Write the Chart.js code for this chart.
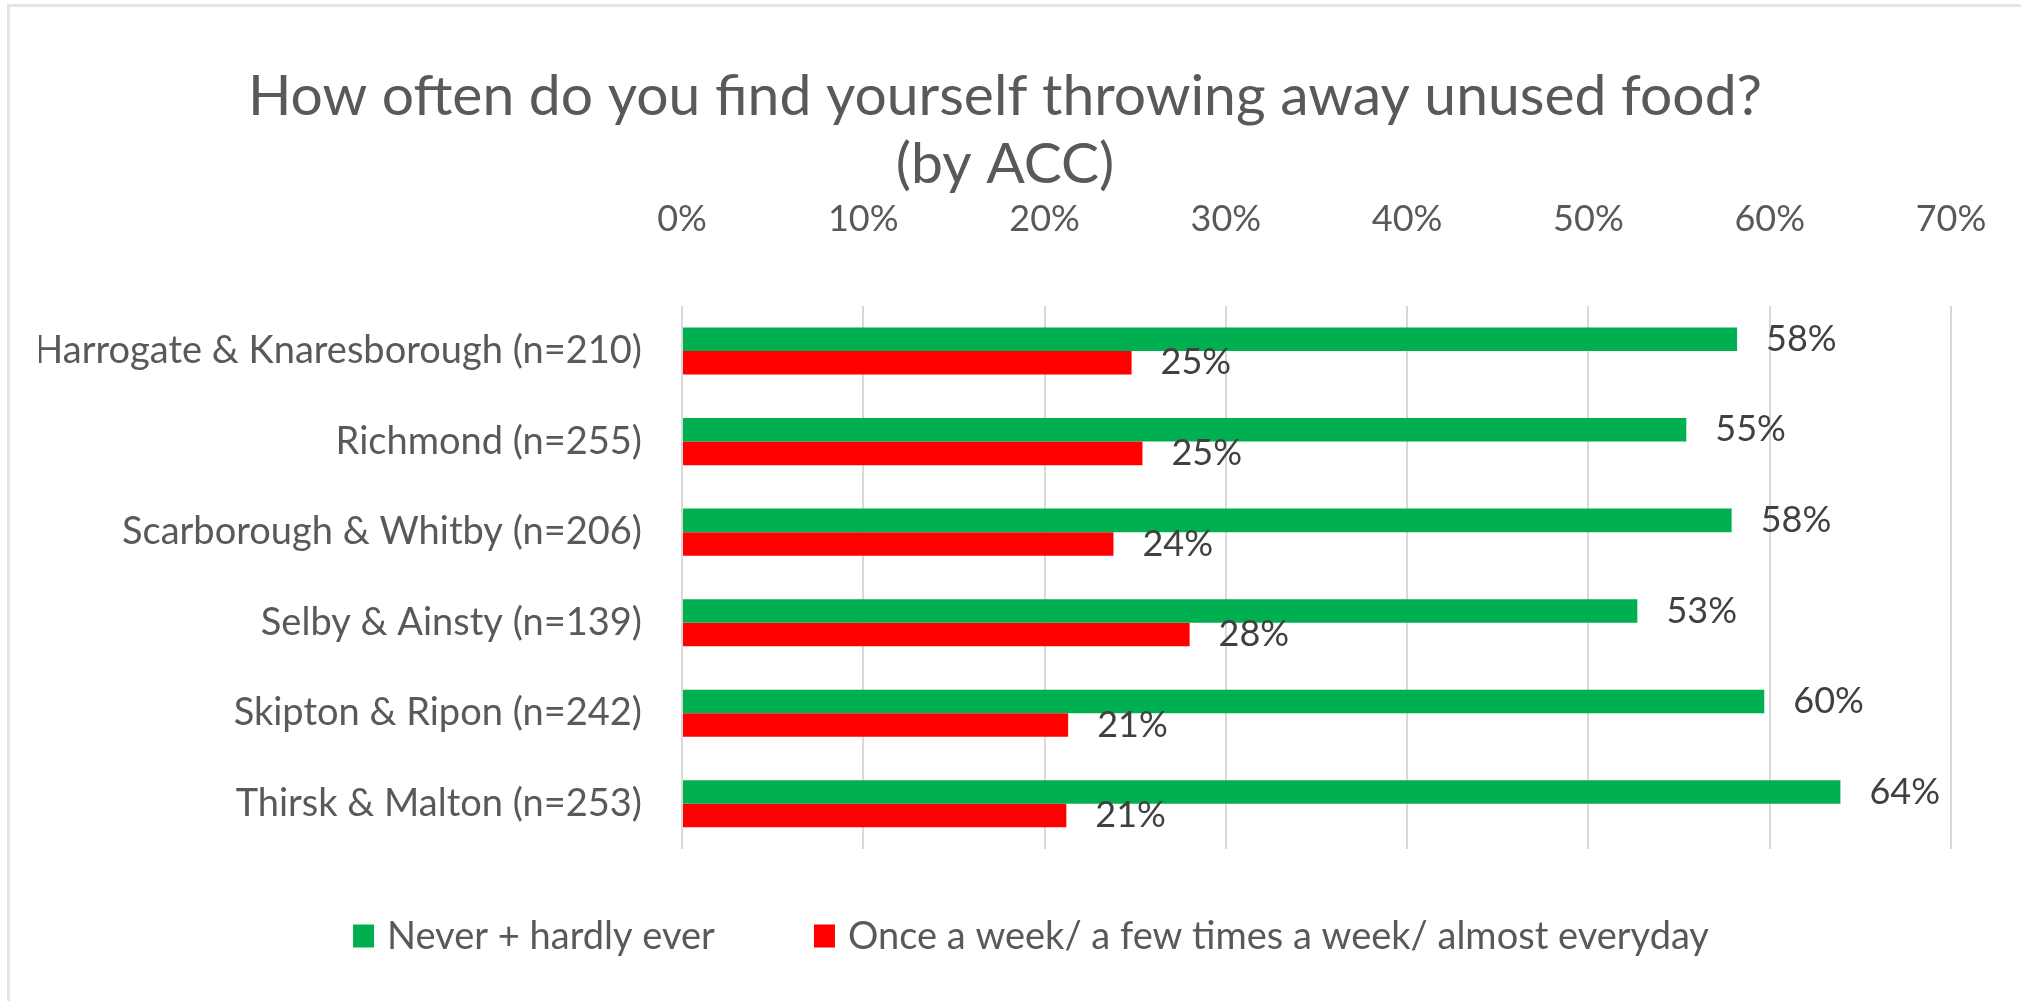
<!DOCTYPE html>
<html>
<head>
<meta charset="utf-8">
<script src="https://cdn.jsdelivr.net/npm/chart.js@4.4.0/dist/chart.umd.min.js"></script>
<style>
  html, body { margin: 0; padding: 0; background: #ffffff; }
  #wrap { position: relative; width: 2021px; height: 1001px; overflow: hidden; }
  #frame {
    position: absolute; left: 7px; top: 4px; right: -10px; bottom: -10px;
    border-left: 3px solid #e4e4e4; border-top: 3px solid #e4e4e4;
    pointer-events: none;
  }
  canvas { position: absolute; left: 0; top: 0; }
</style>
</head>
<body>
<div id="wrap">
  <canvas id="chart" width="2021" height="1001"></canvas>
  <div id="frame"></div>
</div>
<script>
const FONT = "Lato, 'Open Sans', sans-serif";

const titleLines = [
  "How often do you find yourself throwing away unused food?",
  "(by ACC)",
];

const categories = [
  "Harrogate & Knaresborough (n=210)",
  "Richmond (n=255)",
  "Scarborough & Whitby (n=206)",
  "Selby & Ainsty (n=139)",
  "Skipton & Ripon (n=242)",
  "Thirsk & Malton (n=253)",
];

const seriesNames = [
  "Never + hardly ever",
  "Once a week/ a few times a week/ almost everyday",
];

// percentages
const neverValues = [58.2, 55.4, 57.9, 52.7, 59.7, 63.9];
const weeklyValues = [24.8, 25.4, 23.8, 28.0, 21.3, 21.2];

const xTicks = [0, 10, 20, 30, 40, 50, 60, 70];

const GREEN = "#00b050";
const RED = "#ff0000";
const TEXT = "#595959";

// value labels at the end of each bar
const barLabels = {
  id: "barLabels",
  afterDatasetsDraw(chart) {
    const ctx = chart.ctx;
    ctx.save();
    ctx.font = "36px " + FONT;
    ctx.fillStyle = "#404040";
    ctx.textAlign = "left";
    ctx.textBaseline = "middle";
    chart.data.datasets.forEach((ds, i) => {
      chart.getDatasetMeta(i).data.forEach((bar, j) => {
        ctx.fillText(Math.round(ds.data[j]) + "%", bar.x + 29, bar.y);
      });
    });
    ctx.restore();
  },
};

// Excel-style legend: wide gap between the two items
const bottomLegend = {
  id: "bottomLegend",
  afterDraw(chart) {
    const ctx = chart.ctx;
    const boxW = 21, boxH = 23, gap = 13, itemGap = 99;
    const centerX = 1031, centerY = 936;
    ctx.save();
    ctx.font = "38px " + FONT;
    ctx.textBaseline = "middle";
    ctx.textAlign = "left";
    const items = chart.data.datasets.map((ds) => ({
      text: ds.label,
      color: ds.backgroundColor,
      w: ctx.measureText(ds.label).width,
    }));
    let total = 0;
    items.forEach((it, i) => {
      total += boxW + gap + it.w + (i > 0 ? itemGap : 0);
    });
    let x = centerX - total / 2;
    items.forEach((it) => {
      ctx.fillStyle = it.color;
      ctx.fillRect(x, centerY - boxH / 2, boxW, boxH);
      ctx.fillStyle = TEXT;
      ctx.fillText(it.text, x + boxW + gap, centerY + 1);
      x += boxW + gap + it.w + itemGap;
    });
    ctx.restore();
  },
};

const ctx = document.getElementById("chart").getContext("2d");

new Chart(ctx, {
  type: "bar",
  data: {
    labels: categories,
    datasets: [
      {
        label: seriesNames[0],
        data: neverValues,
        backgroundColor: GREEN,
        borderWidth: 0,
        categoryPercentage: 0.52,
        barPercentage: 1.0,
      },
      {
        label: seriesNames[1],
        data: weeklyValues,
        backgroundColor: RED,
        borderWidth: 0,
        categoryPercentage: 0.52,
        barPercentage: 1.0,
      },
    ],
  },
  options: {
    indexAxis: "y",
    responsive: false,
    animation: false,
    layout: {
      padding: { left: 39, right: 50, top: 0, bottom: 152 },
    },
    plugins: {
      legend: { display: false },
      tooltip: { enabled: false },
      title: {
        display: true,
        text: titleLines,
        color: TEXT,
        font: { family: FONT, size: 57, weight: "normal", lineHeight: 1.2 },
        padding: { top: 62, bottom: 0 },
      },
    },
    scales: {
      x: {
        position: "top",
        min: 0,
        max: 70,
        afterBuildTicks: (scale) => {
          scale.ticks = xTicks.map((v) => ({ value: v }));
        },
        afterFit: (scale) => {
          scale.height = 107;
          scale.paddingRight = 70; // keep the plot's right edge where Excel put it
        },
        ticks: {
          callback: (v) => v + "%",
          color: TEXT,
          font: { family: FONT, size: 36 },
          padding: 26,
          maxRotation: 0,
        },
        grid: {
          color: "#d9d9d9",
          lineWidth: 2,
          drawTicks: true,
          tickLength: 39,
          tickColor: "rgba(0,0,0,0)",
        },
        border: { display: false },
      },
      y: {
        afterFit: (scale) => {
          scale.width = 643;
        },
        ticks: {
          color: TEXT,
          font: { family: FONT, size: 38 },
          padding: 40,
        },
        grid: { display: false, drawTicks: false },
        border: { display: false },
      },
    },
  },
  plugins: [barLabels, bottomLegend],
});
</script>
</body>
</html>
